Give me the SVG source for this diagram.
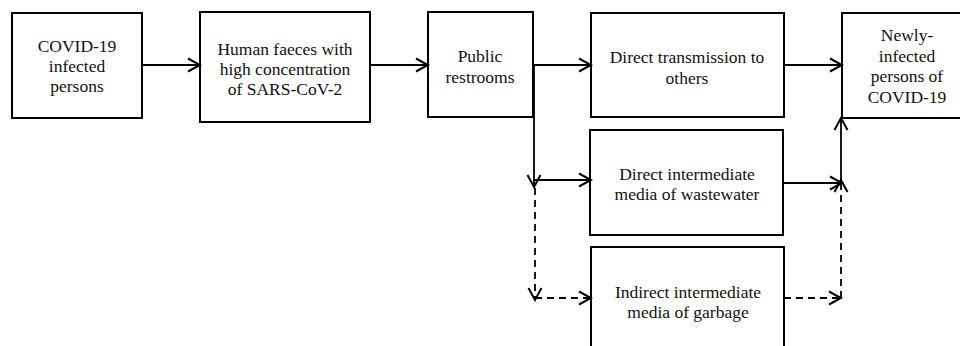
<svg xmlns="http://www.w3.org/2000/svg" width="960" height="346" viewBox="0 0 960 346">
<style>
.box{fill:#fff;stroke:#000;stroke-width:2}
.t{font-family:"Liberation Serif","Times New Roman",serif;font-size:17.5px;fill:#111;text-anchor:middle}
.c{fill:none;stroke:#000;stroke-width:1.8}
.d{stroke-dasharray:7 5}
</style>
<defs>
<marker id="ah" markerUnits="userSpaceOnUse" viewBox="0 0 16 16" refX="14" refY="8" markerWidth="16" markerHeight="16" orient="auto">
<path d="M2,1.5 L14,8 L2,14.5" fill="none" stroke="#000" stroke-width="2"/>
</marker>
</defs>
<rect width="960" height="346" fill="#fff"/>
<g id="n1"><rect class="box" x="12" y="13" width="130" height="105"/>
<text class="t" x="77" y="52">COVID-19</text><text class="t" x="77" y="72">infected</text><text class="t" x="77" y="92">persons</text></g>
<g id="n2"><rect class="box" x="200" y="12" width="170" height="110"/>
<text class="t" x="285" y="55">Human faeces with</text><text class="t" x="285" y="75">high concentration</text><text class="t" x="285" y="95">of SARS-CoV-2</text></g>
<g id="n3"><rect class="box" x="428" y="12" width="105" height="105"/>
<text class="t" x="480" y="62">Public</text><text class="t" x="480" y="83">restrooms</text></g>
<g id="n4"><rect class="box" x="591" y="13" width="193" height="104"/>
<text class="t" x="687" y="63">Direct transmission to</text><text class="t" x="687" y="84">others</text></g>
<g id="n5"><rect class="box" x="842" y="13" width="132" height="105"/>
<text class="t" x="907" y="41">Newly-</text><text class="t" x="907" y="62">infected</text><text class="t" x="907" y="82">persons of</text><text class="t" x="907" y="103">COVID-19</text></g>
<g id="n6"><rect class="box" x="590" y="130" width="193" height="105"/>
<text class="t" x="687" y="180">Direct intermediate</text><text class="t" x="687" y="200">media of wastewater</text></g>
<g id="n7"><rect class="box" x="591" y="247" width="193" height="106"/>
<text class="t" x="688" y="298">Indirect intermediate</text><text class="t" x="688" y="318">media of garbage</text></g>
<g id="connectors">
<path class="c" d="M142,65 H200" marker-end="url(#ah)"/>
<path class="c" d="M370,65 H428" marker-end="url(#ah)"/>
<path class="c" d="M533,65 H591" marker-end="url(#ah)"/>
<path class="c" d="M784,65 H842" marker-end="url(#ah)"/>
<path class="c" d="M534,65 V187" marker-end="url(#ah)"/>
<path class="c" d="M534,180 H591" marker-end="url(#ah)"/>
<path class="c d" d="M535,188 V300" marker-end="url(#ah)"/>
<path class="c d" d="M535,298 H591" marker-end="url(#ah)"/>
<path class="c" d="M783,183 H842" marker-end="url(#ah)"/>
<path class="c" d="M841,183 V118" marker-end="url(#ah)"/>
<path class="c d" d="M784,298 H841" marker-end="url(#ah)"/>
<path class="c d" d="M841,298 V180" marker-end="url(#ah)"/>
</g>
</svg>
